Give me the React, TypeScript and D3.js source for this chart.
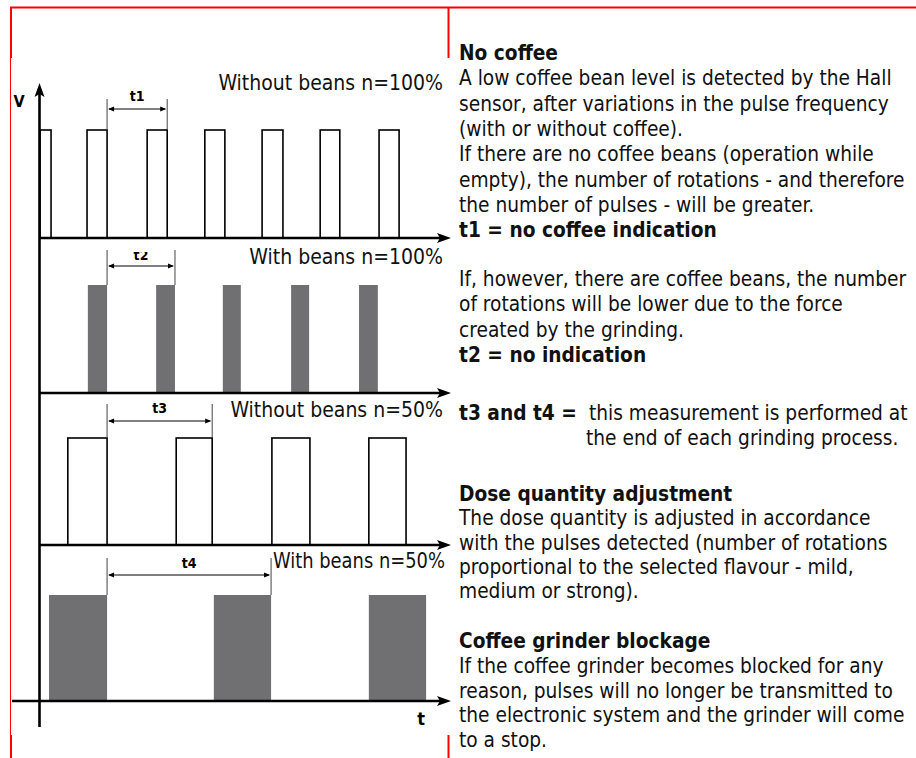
import * as d3 from "d3";

// pulse trains, in time units (0..100 along the t axis)
const pulsesNoBeans100 = [[0, 2.7], [11.5, 16.4], [26.2, 31.1], [40.3, 45.2], [54.3, 59.4], [68.5, 73.3], [82.9, 87.8]];
const pulsesBeans100 = [[11.7, 16.4], [28.4, 33.0], [44.7, 49.1], [61.4, 65.8], [78.0, 82.6]];
const pulsesNoBeans50 = [[6.8, 16.4], [33.3, 42.1], [56.7, 66.0], [80.4, 89.5]];
const pulsesBeans50 = [[2.2, 16.4], [42.5, 56.5], [80.4, 94.4]];

const rowLabels = ["Without beans n=100%", "With beans n=100%", "Without beans n=50%", "With beans n=50%"];
const rowFilled = [false, true, false, true];
const intervalLabels = ["t1", "t2", "t3", "t4"];
const intervals = [[16.4, 31.1], [16.4, 33.0], [16.4, 42.1], [16.4, 56.5]];

// right-hand notes
const noCoffeeLines = [
  "A low coffee bean level is detected by the Hall",
  "sensor, after variations in the pulse frequency",
  "(with or without coffee).",
  "If there are no coffee beans (operation while",
  "empty), the number of rotations - and therefore",
  "the number of pulses - will be greater.",
];
const withBeansLines = [
  "If, however, there are coffee beans, the number",
  "of rotations will be lower due to the force",
  "created by the grinding.",
];
const doseLines = [
  "The dose quantity is adjusted in accordance",
  "with the pulses detected (number of rotations",
  "proportional to the selected flavour - mild,",
  "medium or strong).",
];
const blockageLines = [
  "If the coffee grinder becomes blocked for any",
  "reason, pulses will no longer be transmitted to",
  "the electronic system and the grinder will come",
  "to a stop.",
];

const W = 916;
const H = 758;
const FONT = "'DejaVu Sans Condensed', 'DejaVu Sans', sans-serif";
const RED = "#ff0000";
const GREY = "#707072";

// layout of the four rows
const rowBase = [238, 393, 545, 701];
const rowTop = [130, 285, 438, 595];
const rowAxisStart = [40, 40, 40, 12];
const rowLabelY = [90, 264, 417, 568];
const dimArrowY = [109, 266, 421, 575];
const dimTopY = [99, 250, 404, 558];
const dimLabelY = [101, 260, 413, 568];

function arrowRight(x: number, y: number) {
  return `M${x},${y} L${x - 14},${y - 5} L${x - 11},${y} L${x - 14},${y + 5} Z`;
}
function arrowUp(x: number, y: number) {
  return `M${x},${y} L${x - 5},${y + 14} L${x},${y + 11} L${x + 5},${y + 14} Z`;
}
function smallArrow(x: number, y: number, dir: number) {
  return `M${x},${y} L${x + dir * 6},${y - 2.5} L${x + dir * 6},${y + 2.5} Z`;
}

export default function App() {
  const x = d3.scaleLinear().domain([0, 100]).range([40, 449]);
  const rows = [pulsesNoBeans100, pulsesBeans100, pulsesNoBeans50, pulsesBeans50];

  type Item = { text: string; bold?: boolean; x?: number; prefix?: string; textX?: number };
  type Line = Item & { y: number };
  const lines: Line[] = [];
  const para = (start: number, lh: number, items: Item[]) =>
    items.forEach((it, i) => lines.push({ ...it, y: start + i * lh }));

  para(60, 25.3, [
    { text: "No coffee", bold: true },
    ...noCoffeeLines.map((t) => ({ text: t })),
    { text: "t1 = no coffee indication", bold: true },
  ]);
  para(286, 25.3, [...withBeansLines.map((t) => ({ text: t })), { text: "t2 = no indication", bold: true }]);
  para(420, 25, [
    { text: "this measurement is performed at", prefix: "t3 and t4 =", textX: 589 },
    { text: "the end of each grinding process.", x: 586 },
  ]);
  para(501, 24.3, [{ text: "Dose quantity adjustment", bold: true }, ...doseLines.map((t) => ({ text: t }))]);
  para(648, 24.75, [{ text: "Coffee grinder blockage", bold: true }, ...blockageLines.map((t) => ({ text: t }))]);

  return (
    <svg width={W} height={H} style={{ position: "absolute", left: 0, top: 0, background: "#fff" }}>
      <defs>
        <clipPath id="t2clip">
          <rect x={100} y={252} width={100} height={20} />
        </clipPath>
      </defs>

      {/* red frame */}
      <g stroke={RED} fill="none">
        <line x1={10} x2={W} y1={7.5} y2={7.5} strokeWidth={2} />
        <line x1={11} x2={11} y1={7} y2={58} strokeWidth={2} />
        <line x1={10.5} x2={10.5} y1={58} y2={735} strokeWidth={1} />
        <line x1={11} x2={11} y1={735} y2={H} strokeWidth={2} />
        <line x1={448.5} x2={448.5} y1={7} y2={58} strokeWidth={2} />
        <line x1={448.5} x2={448.5} y1={735} y2={H} strokeWidth={2} />
      </g>

      {/* pulses */}
      {rows.map((pulses, r) => {
        const y = d3.scaleLinear().domain([0, 1]).range([rowBase[r], rowTop[r]]);
        return (
          <g key={r}>
            {pulses.map(([a, b], i) =>
              rowFilled[r] ? (
                <rect key={i} x={x(a)} y={y(1)} width={x(b) - x(a)} height={y(0) - y(1)} fill={GREY} />
              ) : (
                <rect
                  key={i}
                  x={x(a)}
                  y={y(1)}
                  width={x(b) - x(a)}
                  height={y(0) - y(1)}
                  fill="none"
                  stroke="#000"
                  strokeWidth={1.6}
                />
              )
            )}
          </g>
        );
      })}

      {/* axes */}
      <g>
        <line x1={39.5} x2={39.5} y1={92} y2={727} stroke="#000" strokeWidth={2.6} />
        <path d={arrowUp(39.5, 83)} fill="#000" />
        {rowBase.map((yb, r) => (
          <g key={r}>
            <line x1={rowAxisStart[r]} x2={440} y1={yb} y2={yb} stroke="#000" strokeWidth={2.6} />
            <path d={arrowRight(451, yb)} fill="#000" />
          </g>
        ))}
        <text x={19} y={107} fontFamily={FONT} fontWeight="bold" fontSize={16} textAnchor="middle">
          V
        </text>
        <text x={421} y={725} fontFamily={FONT} fontWeight="bold" fontSize={18} textAnchor="middle">
          t
        </text>
      </g>

      {/* interval markers */}
      {intervals.map(([a, b], r) => (
        <g key={r}>
          <line x1={x(a)} x2={x(a)} y1={dimTopY[r]} y2={rowTop[r]} stroke="#444" strokeWidth={1} />
          <line x1={x(b)} x2={x(b)} y1={dimTopY[r]} y2={rowTop[r]} stroke="#444" strokeWidth={1} />
          <line x1={x(a) + 2} x2={x(b) - 2} y1={dimArrowY[r]} y2={dimArrowY[r]} stroke="#000" strokeWidth={1} />
          <path d={smallArrow(x(a) + 1, dimArrowY[r], 1)} fill="#000" />
          <path d={smallArrow(x(b) - 1, dimArrowY[r], -1)} fill="#000" />
          <text
            x={(x(a) + x(b)) / 2}
            y={dimLabelY[r]}
            fontFamily={FONT}
            fontWeight="bold"
            fontSize={14}
            textAnchor="middle"
            clipPath={r === 1 ? "url(#t2clip)" : undefined}
          >
            {intervalLabels[r]}
          </text>
        </g>
      ))}

      {/* row captions */}
      {rowLabels.map((lab, r) =>
        r === 3 ? (
          <text
            key={r}
            x={273}
            y={rowLabelY[r]}
            fontFamily={FONT}
            fontSize={21}
            fill="#111"
            textLength={172}
            lengthAdjust="spacingAndGlyphs"
          >
            {lab}
          </text>
        ) : (
          <text key={r} x={443} y={rowLabelY[r]} fontFamily={FONT} fontSize={21} textAnchor="end" fill="#111">
            {lab}
          </text>
        )
      )}

      {/* notes */}
      <g fontFamily={FONT} fontSize={20.7} fill="#111">
        {lines.map((l, i) => (
          <text key={i} x={l.x ?? 459} y={l.y} fontWeight={l.bold ? "bold" : "normal"}>
            {l.prefix && <tspan fontWeight="bold">{l.prefix}</tspan>}
            {l.textX ? <tspan x={l.textX}>{l.text}</tspan> : l.text}
          </text>
        ))}
      </g>
    </svg>
  );
}
